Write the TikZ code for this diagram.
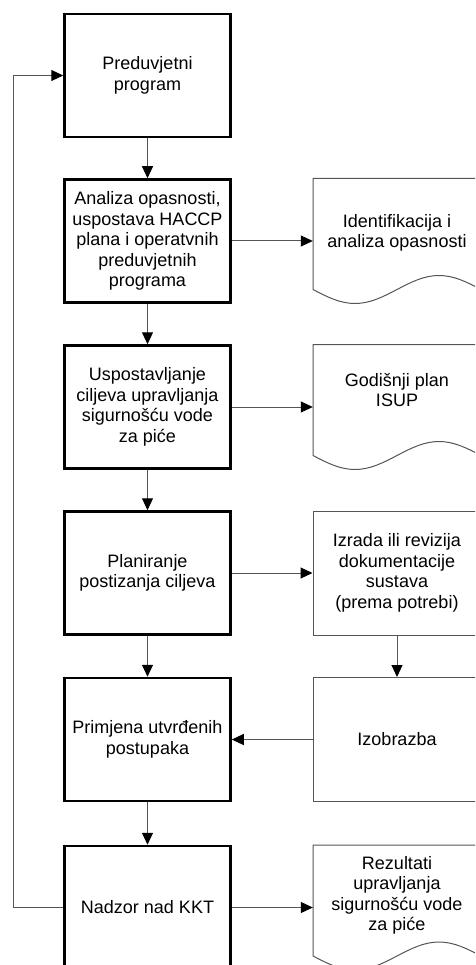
\documentclass[tikz,border=0pt]{standalone}
\usepackage{fontspec}
\setmainfont{Liberation Sans}
\usetikzlibrary{arrows.meta}
\definecolor{lin}{RGB}{85,85,85}

\begin{document}
\begin{tikzpicture}[
		x=1pt,y=-1pt,
		every node/.style={align=center,font=\fontsize{18}{20.5}\selectfont},
		Proc/.style={draw,line width=2.5pt,minimum width=166pt,minimum height=123pt},
		Info/.style={draw=lin,line width=1pt,minimum width=168pt,minimum height=124pt},
		Doc/.style={minimum width=168pt,inner sep=0pt},
		DocLine/.style={draw=lin,line width=1pt},
		arr/.style={draw=lin,line width=1pt,-{Triangle[length=12pt,width=11pt,color=black]}}
	]
	\useasboundingbox (0,0) rectangle (475,965);
	\clip (0,0) rectangle (475,965);

	%process steps
		\foreach \x/\y/\t in {0/75.5/{Preduvjetni\\program},
				1/241/{Analiza opasnosti,\\uspostava HACCP\\plana i operatvnih\\preduvjetnih\\programa},
				2/407/{Uspostavljanje\\ciljeva upravljanja\\sigurnošću vode\\za piće},
				3/573/{Planiranje\\postizanja ciljeva},
				4/739.5/{Primjena utvrđenih\\postupaka},
				5/907.5/{Nadzor nad KKT}}
			\node[Proc] (u\x) at (147.5,\y) {\t};
	%documents
		\foreach \x/\y/\d/\t in {1/241/-8/{Identifikacija i\\analiza opasnosti},
				2/407/-17/{Godišnji plan\\ISUP},
				5/907.5/-12/{Rezultati\\upravljanja\\sigurnošću vode\\za piće}}
		{
			\draw[DocLine] (313,\y+48.5) -- (313,\y-62.5) -- (481,\y-62.5) -- (481,\y+48.5)
				sin ++(-42,-14) cos ++(-42,14) sin ++(-42,14) cos ++(-42,-14) -- cycle;
			\node[Doc] (v\x) at (397,\y+\d) {\t};
		}
	%other boxes
		\node[Info] (v3) at (397,573) {Izrada ili revizija\\dokumentacije\\sustava\\(prema potrebi)};
		\node[Info] (v4) at (397,739.5) {Izobrazba};
	%edges
		\foreach \x in {0,...,4}
		{
			\pgfmathtruncatemacro{\xp}{\x+1};
			\draw[arr] (u\x) -- (u\xp);
		}
		\foreach \x in {1,2,3,5}
			\draw[arr] (u\x.east) -- (u\x.east -| v\x.west);
		\draw[arr] (v3) -- (v4);
		\draw[arr] (v4) -- (u4);
	%back to the start
		\coordinate (back) at (13,907.5);
		\draw[arr] (u5) -- (back) |- (u0);
\end{tikzpicture}
\end{document}
